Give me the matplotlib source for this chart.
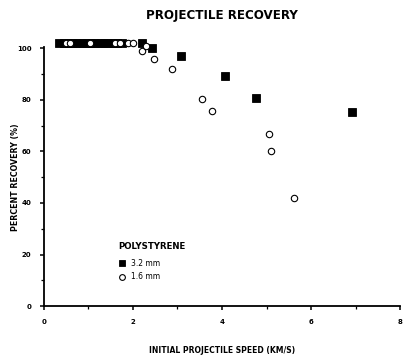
import matplotlib
matplotlib.use("Agg")
import matplotlib.pyplot as plt
from matplotlib.ticker import MultipleLocator

# 3.2 mm polystyrene projectiles (filled squares)
speed_32 = [0.35, 0.45, 0.55, 0.65, 0.75, 0.85, 0.95, 1.05, 1.15, 1.25, 1.35,
            1.45, 1.55, 1.65, 1.75, 2.2, 2.43, 3.08, 4.07, 4.76, 6.92]
recov_32 = [102, 102, 102, 102, 102, 102, 102, 102, 102, 102, 102,
            102, 102, 102, 102, 102, 100, 97, 89.4, 80.8, 75.3]

# 1.6 mm polystyrene projectiles (open circles)
speed_16 = [0.5, 0.58, 1.03, 1.6, 1.7, 1.9, 2.0, 2.2, 2.3, 2.48, 2.87,
            3.55, 3.77, 5.06, 5.1, 5.62]
recov_16 = [102, 102, 102, 102, 102, 102, 102, 98.8, 101, 95.7, 92,
            80.4, 75.7, 66.7, 60, 42]

plt.rcParams['font.family'] = ['DejaVu Sans']

fig = plt.figure(figsize=(4.10, 3.61), dpi=100)
ax = fig.add_axes([0.107, 0.152, 0.869, 0.718])

ax.plot(speed_32, recov_32, 's', color='black', markersize=5.3,
        markeredgewidth=0.6, clip_on=False, label='3.2 mm')
ax.plot(speed_16, recov_16, 'o', markerfacecolor='white', markeredgecolor='black',
        markersize=4.6, markeredgewidth=0.8, clip_on=False, label='1.6 mm')

ax.set_xlim(0, 8)
ax.set_ylim(0, 100.5)
ax.xaxis.set_major_locator(MultipleLocator(2))
ax.xaxis.set_minor_locator(MultipleLocator(1))
ax.yaxis.set_major_locator(MultipleLocator(20))
ax.yaxis.set_minor_locator(MultipleLocator(10))
ax.set_yticks([0, 20, 40, 60, 80, 100])
ax.set_yticklabels(['0', '20', '40', '60', '80', '100'])

for s in ('top', 'right'):
    ax.spines[s].set_visible(False)
ax.spines['left'].set_linewidth(1.3)
ax.spines['bottom'].set_linewidth(1.3)
ax.tick_params(which='major', direction='out', length=3, width=1.1,
               labelsize=5, pad=6)
ax.tick_params(which='minor', direction='out', length=2, width=0.9)
for lbl in ax.get_xticklabels() + ax.get_yticklabels():
    lbl.set_fontweight('bold')

fig.text(0.542, 0.958, 'PROJECTILE RECOVERY', ha='center', va='center',
         fontsize=8.6, fontweight='bold')
fig.text(0.542, 0.03, 'INITIAL PROJECTILE SPEED (KM/S)', ha='center', va='center',
         fontsize=5.5, fontweight='bold')
fig.text(0.037, 0.51, 'PERCENT RECOVERY (%)', ha='center', va='center',
         rotation=90, fontsize=5.7, fontweight='bold')

leg = ax.legend(loc='upper left', bbox_to_anchor=(0.2, 0.26), frameon=False,
                title='POLYSTYRENE', fontsize=5.5, title_fontsize=6.2,
                handletextpad=0.7, labelspacing=0.55, borderaxespad=0,
                handlelength=1.0, markerscale=0.9)
leg._legend_box.align = 'left'
leg._legend_box.sep = 6
leg.get_title().set_fontweight('bold')

fig.savefig('out.png', dpi=100)
